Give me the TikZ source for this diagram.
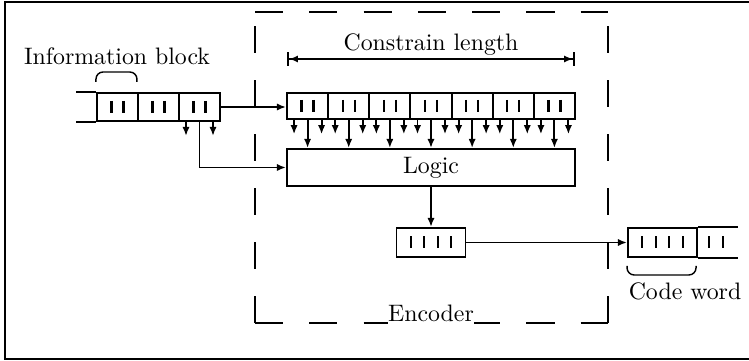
\documentclass[tikz,border=0pt]{standalone}
\usetikzlibrary{arrows.meta, positioning}

\begin{document}
\begin{tikzpicture}[
    x=0.42pt, y=-0.42pt,
    cell/.style={rectangle, draw, thick, inner sep=0pt, minimum width=17.3pt, minimum height=11.2pt},
    wide/.style={cell, minimum width=29pt, minimum height=12.2pt},
    bar/.style={line width=1pt},
    arrow/.style={-{Latex[length=3.8pt,width=3pt]}, thick},
    dim/.style={{Bar[width=5.5pt]Latex[length=3.8pt,width=3pt]}-{Latex[length=3.8pt,width=3pt]Bar[width=5.5pt]}, thick},
    brace/.style={semithick, rounded corners=3pt},
    hdash/.style={thick, dash pattern=on 11.8pt off 11pt},
    vdash/.style={thick, dash pattern=on 11.34pt off 11.34pt}
]
    \useasboundingbox (0,0) rectangle (749,361);
    \draw[thick] (749,2) -- (5,2) -- (5,359) -- (749,359);

    % encoder frame
    \coordinate (e1) at (255,12);
    \coordinate (e2) at (608,12);
    \coordinate (e3) at (608,323);
    \coordinate (e4) at (255,323);
    \draw[hdash] (e1) -- (e2);
    \draw[hdash] (e4) -- (e3);
    \draw[vdash] (e4) -- (e1);
    \draw[vdash] (e3) -- (e2);
    \node[fill=white, inner xsep=0pt, inner ysep=2pt] (enc) at (431,313) {Encoder};

    % information block register
    \foreach \i in {1,2,3} {
        \node[cell, minimum height=11.8pt] (ib\i) at ({97+41*(\i-0.5)},107) {};
        \draw[bar] (ib\i.center) ++(-6,-6) -- ++(0,12);
        \draw[bar] (ib\i.center) ++(6,-6) -- ++(0,12);
    }
    \draw[thick] (ib1.north west) -- ++(-20,0);
    \draw[thick] (ib1.south west) -- ++(-20,0);
    \draw[brace] (ib1.north west) ++(0,-10) -- ++(0,-10) -- ++(41,0) -- ++(0,10);
    \node (infolabel) at (117,56) {Information block};

    % logic and constraint register
    \node[draw, thick, minimum width=121pt, minimum height=12.2pt] (logic) at (431,167.5) {Logic};
    \foreach \i in {1,...,7} {
        \node[cell] (cl\i) at ({287+41.14*(\i-0.5)},106) {};
        \draw[bar] (cl\i.center) ++(-6,-6) -- ++(0,12);
        \draw[bar] (cl\i.center) ++(6,-6) -- ++(0,12);
        \draw[arrow] (cl\i.south) ++(-13.5,0) -- ++(0,14);
        \draw[arrow] (cl\i.south) ++(14,0) -- ++(0,14);
        \draw[arrow] (cl\i.south) -- (cl\i.south |- logic.north);
    }
    \coordinate (cs) at (287,59);
    \coordinate (ce) at (575,59);
    \draw[dim] (cs) -- (ce);
    \node (conlabel) at (431,45) {Constrain length};

    \draw[arrow] (ib3.east) -- (ib3.east -| cl1.west);
    \draw[arrow] (ib3.south) ++(-13.5,0) -- ++(0,14);
    \draw[arrow] (ib3.south) ++(13.5,0) -- ++(0,14);
    \draw[arrow] (ib3.south) |- (logic.west);

    % output register
    \node[wide] (outreg) at (431,242.5) {};
    \foreach \dx in {-20.25,-6.75,6.75,20.25}
        \draw[bar] (outreg.center) ++(\dx,-6) -- ++(0,12);
    \draw[arrow] (logic.south) -- (outreg.north);

    % code word register
    \node[wide] (cw1) at (662.5,242.5) {};
    \foreach \dx in {-20.25,-6.75,6.75,20.25}
        \draw[bar] (cw1.center) ++(\dx,-6) -- ++(0,12);
    \draw[thick] (cw1.north east) -- ++(40,0);
    \draw[thick] (cw1.south east) -- ++(40,0);
    \draw[bar] (cw1.east) ++(11,-6) -- ++(0,12);
    \draw[bar] (cw1.east) ++(25,-6) -- ++(0,12);
    \draw[brace] (cw1.south west) ++(0,8) -- ++(0,9) -- ++(69,0) -- ++(0,-9);
    \node (cwlabel) at (685,291) {Code word};
    \draw[arrow] (outreg.east) -- (cw1.west);
\end{tikzpicture}
\end{document}
